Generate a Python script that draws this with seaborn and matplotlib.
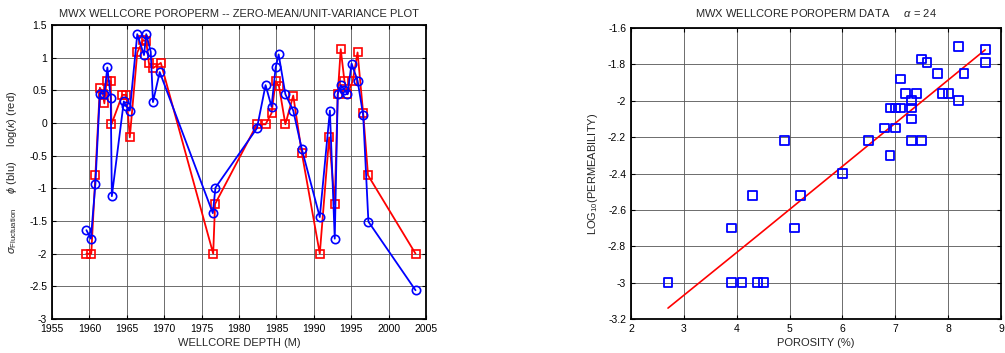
import numpy as np
import pandas as pd
import matplotlib
matplotlib.use("Agg")
import matplotlib.pyplot as plt
import matplotlib.ticker as mticker
import seaborn as sns

# ---- Left panel data: zero-mean / unit-variance fluctuations vs depth ----
phi_depth = [1959.6, 1960.2, 1960.8, 1961.4, 1962.0, 1962.4, 1962.85, 1963.0,
             1964.6, 1964.9, 1965.4, 1966.4, 1967.3, 1967.6, 1968.2, 1968.5,
             1969.4, 1976.5, 1976.85, 1982.4, 1983.55, 1984.35, 1984.9, 1985.3,
             1986.2, 1987.25, 1988.4, 1990.8, 1992.15, 1992.8, 1993.2, 1993.6,
             1994.1, 1994.5, 1995.05, 1995.85, 1996.6, 1997.3, 2003.6]
phi_vals = [-1.64, -1.77, -0.93, 0.45, 0.45, 0.85, 0.39, -1.12,
            0.33, 0.26, 0.19, 1.36, 1.04, 1.36, 1.09, 0.32,
            0.78, -1.38, -0.99, -0.08, 0.58, 0.25, 0.85, 1.05,
            0.44, 0.19, -0.40, -1.44, 0.19, -1.77, 0.44, 0.58,
            0.51, 0.44, 0.91, 0.65, 0.12, -1.51, -2.56]

k_depth = [1959.6, 1960.25, 1960.8, 1961.4, 1961.8, 1962.0, 1962.3, 1962.85,
           1962.95, 1964.4, 1964.95, 1965.4, 1966.4, 1967.2, 1967.6, 1967.95,
           1968.5, 1969.55, 1976.55, 1976.8, 1982.4, 1983.55, 1984.35, 1984.9,
           1985.35, 1986.2, 1987.25, 1988.4, 1990.8, 1992.05, 1992.8, 1993.2,
           1993.6, 1994.1, 1994.5, 1995.2, 1995.85, 1996.6, 1997.25, 2003.6]
k_vals = [-2.0, -2.0, -0.80, 0.54, 0.45, 0.30, 0.65, 0.64,
          -0.02, 0.43, 0.43, -0.22, 1.08, 1.27, 1.25, 0.92,
          0.84, 0.92, -2.0, -1.24, -0.02, -0.02, 0.15, 0.64,
          0.56, -0.02, 0.42, -0.46, -2.0, -0.22, -1.24, 0.44,
          1.13, 0.64, 0.44, 0.64, 1.08, 0.15, -0.80, -2.0]

# ---- Right panel data: porosity vs log10 permeability ----
porosity = [2.7, 3.9, 3.9, 4.1, 4.4, 4.5, 4.3, 4.9, 5.2, 5.1, 6.0, 6.5, 6.8,
            6.9, 6.9, 7.0, 7.0, 7.1, 7.1, 7.2, 7.3, 7.3, 7.3, 7.3, 7.4, 7.5,
            7.5, 7.6, 7.8, 7.9, 8.0, 8.2, 8.2, 8.3, 8.7, 8.7]
logperm = [-3.0, -2.70, -3.0, -3.0, -3.0, -3.0, -2.52, -2.22, -2.52, -2.70,
           -2.40, -2.22, -2.15, -2.30, -2.04, -2.04, -2.15, -2.04, -1.88,
           -1.96, -2.0, -2.04, -2.10, -2.22, -1.96, -1.77, -2.22, -1.79,
           -1.85, -1.96, -1.96, -1.70, -2.0, -1.85, -1.72, -1.79]
fit_x = [2.7, 4.4, 8.7]
fit_y = [-3.14, -2.74, -1.72]

x_ticks_left = list(range(1955, 2006, 5))
y_ticks_left = [-3, -2.5, -2, -1.5, -1, -0.5, 0, 0.5, 1, 1.5]
x_ticks_right = [2, 3, 4, 5, 6, 7, 8, 9]
y_ticks_right = [-3.2, -3.0, -2.8, -2.6, -2.4, -2.2, -2.0, -1.8, -1.6]

sns.set_theme(style="white")
plt.rcParams["font.family"] = ["Liberation Sans", "DejaVu Sans"]
plt.rcParams["axes.unicode_minus"] = False
plt.rcParams["mathtext.fontset"] = "custom"
plt.rcParams["mathtext.rm"] = "Liberation Sans"
plt.rcParams["mathtext.it"] = "Liberation Sans:italic"

FS = 7.5
fig = plt.figure(figsize=(10.05, 3.53), dpi=100)
ax1 = fig.add_axes([52/1005, 1-319/353, (426-52)/1005, (319-25)/353])
ax2 = fig.add_axes([631/1005, 1-319/353, (1001-631)/1005, (319-28)/353])

def style_axes(ax):
    ax.grid(True, color="#555555", linewidth=0.6, linestyle="-")
    ax.set_axisbelow(True)
    for sp in ax.spines.values():
        sp.set_visible(True)
        sp.set_color("black")
        sp.set_linewidth(1.3)
    ax.tick_params(direction="in", length=3, width=0.8, top=True, right=True,
                   bottom=True, left=True, labelsize=FS, colors="black")
    ax.tick_params(axis="x", pad=3.5)
    ax.tick_params(axis="y", pad=3.5)
    ax.xaxis.set_major_formatter(mticker.FormatStrFormatter("%g"))
    ax.yaxis.set_major_formatter(mticker.FormatStrFormatter("%g"))

# Left panel
df_k = pd.DataFrame({"depth": k_depth, "val": k_vals})
df_p = pd.DataFrame({"depth": phi_depth, "val": phi_vals})
sns.lineplot(data=df_k, x="depth", y="val", sort=False, estimator=None, ax=ax1,
             color="red", linewidth=1.3, marker="s", markersize=6,
             markerfacecolor="none", markeredgecolor="red", markeredgewidth=1.2)
sns.lineplot(data=df_p, x="depth", y="val", sort=False, estimator=None, ax=ax1,
             color="blue", linewidth=1.3, marker="o", markersize=6,
             markerfacecolor="none", markeredgecolor="blue", markeredgewidth=1.2)
ax1.set_xlim(1955, 2005)
ax1.set_ylim(-3, 1.5)
ax1.set_xticks(x_ticks_left)
ax1.set_yticks(y_ticks_left)
style_axes(ax1)
ax1.set_xlabel("WELLCORE DEPTH (M)", fontsize=FS+0.5, labelpad=3)
ax1.set_ylabel(r"$\sigma_{\mathrm{Fluctuation}}$     $\phi$ (blu)     log($\kappa$) (red)",
               fontsize=FS+0.5, labelpad=7)
ax1.set_title("MWX WELLCORE POROPERM -- ZERO-MEAN/UNIT-VARIANCE PLOT",
              fontsize=FS+0.5, pad=6)

# Right panel
df_s = pd.DataFrame({"por": porosity, "lp": logperm})
sns.scatterplot(data=df_s, x="por", y="lp", ax=ax2, marker="s", s=40,
                facecolor="none", edgecolor="blue", linewidth=1.3, zorder=3)
sns.lineplot(x=fit_x, y=fit_y, ax=ax2, color="red", linewidth=1.2,
             sort=False, estimator=None, zorder=2)
ax2.set_xlim(2, 9)
ax2.set_ylim(-3.2, -1.6)
ax2.set_xticks(x_ticks_right)
ax2.set_yticks(y_ticks_right)
style_axes(ax2)
ax2.set_xlabel("POROSITY (%)", fontsize=FS+0.5, labelpad=3)
ax2.set_ylabel(r"LOG$_{10}$(PERMEABILITY)", fontsize=FS+0.5, labelpad=6)
ax2.set_title(r"MWX WELLCORE POROPERM DATA     $\alpha$ = 24", fontsize=FS+0.5, pad=8)

fig.savefig("out.png", dpi=100)
